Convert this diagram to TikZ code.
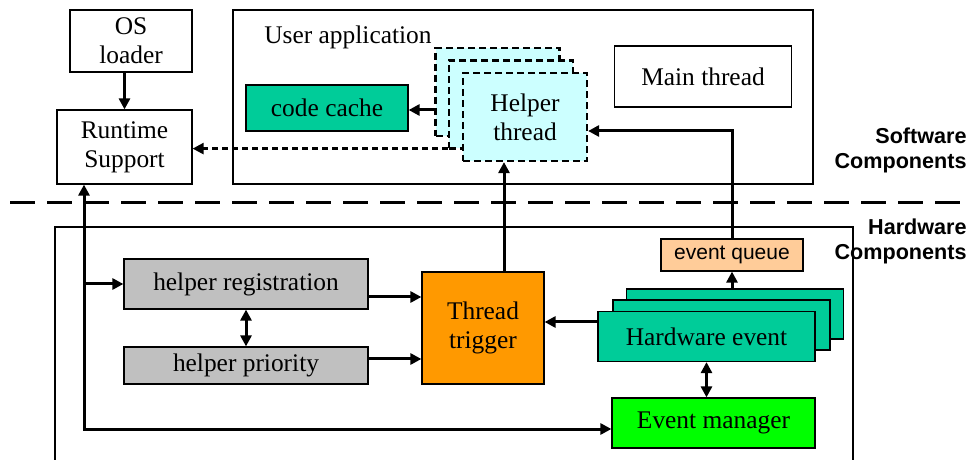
\documentclass[tikz,border=0pt]{standalone}
\usepackage{fontspec}
\setmainfont{Liberation Serif}
\setsansfont{Liberation Sans}
\usetikzlibrary{positioning,arrows.meta}

\definecolor{cachegreen}{HTML}{00CC99}
\definecolor{helpcyan}{HTML}{CCFFFF}
\definecolor{reggray}{HTML}{C0C0C0}
\definecolor{trigorange}{HTML}{FF9900}
\definecolor{queuepeach}{HTML}{FFCC99}
\definecolor{evgreen}{HTML}{00FF00}

\begin{document}
\begin{tikzpicture}[x=0.5pt,y=-0.5pt, font=\fontsize{12.7}{14.5}\selectfont,
  box/.style={draw, line width=0.6pt, inner sep=0pt, align=center},
  helper/.style={box, fill=helpcyan, line width=1.1pt, dash pattern=on 3.5pt off 2pt,
    minimum width=62pt, minimum height=44pt},
  hwevent/.style={box, fill=cachegreen, minimum width=108.5pt, minimum height=25pt},
  side/.style={inner sep=0pt, align=right, font=\fontsize{10.8}{12.5}\selectfont\sffamily\bfseries},
  flow/.style={line width=1.5pt, -{Triangle[length=5.5pt,width=5.5pt]}},
  both/.style={line width=1.5pt, {Triangle[length=5.5pt,width=5.5pt]}-{Triangle[length=5.5pt,width=5.5pt]}},
  dashflow/.style={line width=1.2pt, dash pattern=on 3pt off 2pt, -{Triangle[length=5.5pt,width=5.5pt]}},
  sepline/.style={line width=1.5pt, dash pattern=on 12.5pt off 6pt}]
  \useasboundingbox (0,0) rectangle (971,460);

  % software side
  \node[box, minimum width=61pt, minimum height=31pt] (osl) at (131,41) {OS\\loader};
  \node[box, minimum width=67.5pt, minimum height=37pt] (rts) at (124.5,147) {Runtime\\Support};
  \node[box, minimum width=290pt, minimum height=87pt] (app) at (523,97) {};
  \node[anchor=base west, inner sep=0pt] (applbl) at (264,44) {User application};
  \node[box, fill=cachegreen, minimum width=81pt, minimum height=23pt] (cache) at (327,108) {code cache};
  \node[helper] (help1) at (497.5,92) {};
  \node[helper] (help2) at ([shift={(6.75pt,-6.25pt)}]help1.center) {};
  \node[helper] (help3) at ([shift={(7pt,-6.25pt)}]help2.center) {Helper\\thread};
  \node[box, minimum width=88.5pt, minimum height=30.5pt] (main) at (703,76.5) {Main thread};

  % separator
  \draw[sepline] (10,203) -- (971,203);
  \node[side, anchor=east] (swlbl) at (967,150) {Software\\Components};
  \node[side, anchor=east] (hwlbl) at (967,241) {Hardware\\Components};

  % hardware side
  \draw[line width=0.6pt] (55,462) -- (55,227) -- (853,227) -- (853,462);
  \node[box, fill=reggray, minimum width=122pt, minimum height=25pt] (reg) at (246,284) {helper registration};
  \node[box, fill=reggray, minimum width=122pt, minimum height=18.5pt] (prio) at (246,365.5) {helper priority};
  \node[box, fill=trigorange, minimum width=61pt, minimum height=56pt] (trig) at (483,328) {Thread\\trigger};
  \node[box, fill=queuepeach, font=\fontsize{10.5}{12}\selectfont\sffamily,
    minimum width=71pt, minimum height=16pt] (queue) at (732,255) {event queue};
  \node[hwevent] (hwe1) at (735,314) {};
  \node[hwevent] (hwe2) at ([shift={(-6.75pt,-5.5pt)}]hwe1.center) {};
  \node[hwevent] (hwe3) at ([shift={(-7.5pt,-5.75pt)}]hwe2.center) {Hardware event};
  \node[box, fill=evgreen, minimum width=101.5pt, minimum height=25pt] (evm) at (713.5,423) {Event manager};

  % connectors
  \draw[flow] (rts.north |- osl.south) -- (rts.north);
  \draw[flow] ([yshift=-9pt]help1.west) -- ([yshift=-9pt]help1.west -| cache.east);
  \draw[dashflow] ([yshift=0.5pt]help2.south west) -- ([yshift=0.5pt]help2.south west -| rts.east);
  \draw[flow] (queue.north) |- ([yshift=-7pt]help3.east);
  \draw[flow] ([xshift=10.5pt]trig.north) -- ([xshift=10.5pt]trig.north |- help3.south);
  \coordinate (tap) at (84,284);
  \draw[both] ([xshift=-20.25pt]rts.south) |- ([yshift=-3pt]evm.west);
  \draw[flow] (tap) -- (reg.west);
  \draw[both] (reg.south) -- (prio.north);
  \draw[flow] ([yshift=-6.5pt]reg.east) -- ([yshift=-6.5pt]reg.east -| trig.west);
  \draw[flow] ([yshift=3.25pt]prio.east) -- ([yshift=3.25pt]prio.east -| trig.west);
  \draw[flow] ([yshift=7.25pt]hwe3.west) -- ([yshift=7.25pt]hwe3.west -| trig.east);
  \draw[flow] (queue.south |- hwe1.north) -- (queue.south);
  \draw[both] (hwe3.south) -- (hwe3.south |- evm.north);
\end{tikzpicture}
\end{document}
